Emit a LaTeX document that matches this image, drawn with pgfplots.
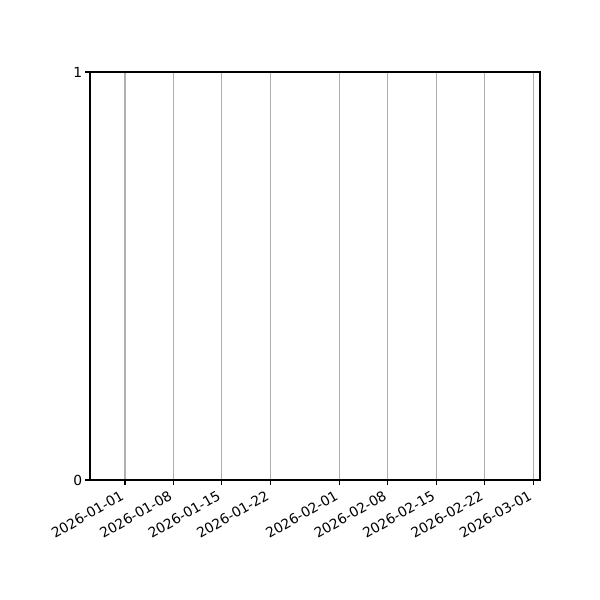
\documentclass[border=0pt]{standalone}
\usepackage{fontspec}
\setmainfont{DejaVu Sans}
\usepackage{pgfplots}
\pgfplotsset{compat=1.18}
\begin{document}
\begin{tikzpicture}
\begin{axis}[
  scale only axis,
  width=4.5in, height=4.08in,
  xmin=-5.06, xmax=60.0,
  ymin=0, ymax=1,
  xtick={0,7,14,21,31,38,45,52,59},
  xticklabels={2026-01-01,2026-01-08,2026-01-15,2026-01-22,2026-02-01,2026-02-08,2026-02-15,2026-02-22,2026-03-01},
  ytick={0,1},
  /pgf/number format/assume math mode=true,
  tick label style={font=\fontsize{10}{12}\selectfont, text=black},
  xticklabel style={xshift=-3.5pt, yshift=-2pt, rotate=30, anchor=north east, inner sep=1pt},
  yticklabel style={inner sep=2pt},
  tick align=outside,
  major tick length=3.5pt,
  tick style={black, line width=0.8pt},
  xtick pos=bottom, ytick pos=left,
  xmajorgrids,
  grid style={color={rgb,255:red,176;green,176;blue,176}, line width=0.8pt},
  axis line style={black, line width=0.8pt},
  axis on top,
]
\addplot[color={rgb,1:red,0;green,0;blue,1}, line width=1.5pt] coordinates {(-5.06,0) (60.0,0)};
\end{axis}
\path ([shift={(-0.9in,-1.2in)}]current axis.south west) rectangle ([shift={(0.6in,0.72in)}]current axis.north east);
\end{tikzpicture}
\end{document}
